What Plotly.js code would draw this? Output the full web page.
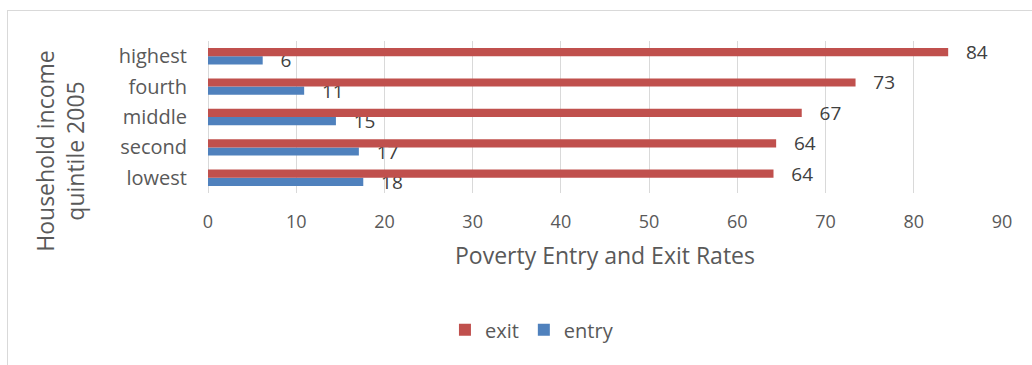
<!DOCTYPE html>
<html><head><meta charset="utf-8">
<script src="https://cdn.plot.ly/plotly-3.0.1.min.js"></script>
<style>
html,body{margin:0;padding:0;background:#fff;}
#wrap{position:absolute;left:0;top:0;width:1032px;height:365px;}
#frame{position:absolute;left:7px;top:10px;width:1040px;height:370px;border:1px solid #d9d9d9;box-sizing:border-box;}
#chart{position:absolute;left:0;top:0;width:1032px;height:365px;}
</style></head>
<body><div id="wrap"><div id="frame"></div><div id="chart"></div></div>
<script>
var categories = ["lowest", "second", "middle", "fourth", "highest"];
var exitRates = [64.1, 64.4, 67.3, 73.4, 83.9];
var entryRates = [17.6, 17.1, 14.5, 10.9, 6.2];
var xTicks = [0, 10, 20, 30, 40, 50, 60, 70, 80, 90];

var font = "Open Sans, Liberation Sans, sans-serif";
var pad = "\u00a0\u00a0\u00a0";
var traces = [
  {type:"bar", orientation:"h", name:"entry", y:categories, x:entryRates,
   marker:{color:"#4F81BD"}, texttemplate:pad + "%{x:.0f}", textposition:"outside", constraintext:"none",
   textfont:{family:font, size:19, color:"#404040"}, cliponaxis:false, hoverinfo:"none"},
  {type:"bar", orientation:"h", name:"exit", y:categories, x:exitRates,
   marker:{color:"#C0504D"}, texttemplate:pad + "%{x:.0f}", textposition:"outside", constraintext:"none",
   textfont:{family:font, size:19, color:"#404040"}, cliponaxis:false, hoverinfo:"none"}
];
var layout = {
  width:1032, height:365,
  paper_bgcolor:"rgba(0,0,0,0)", plot_bgcolor:"rgba(0,0,0,0)",
  margin:{l:208, r:30, t:41, b:172},
  barmode:"group", bargap:0.46, bargroupgap:0,
  showlegend:true,
  legend:{orientation:"h", x:0.408, xanchor:"center", y:-0.90, yanchor:"middle",
    traceorder:"reversed", font:{family:font, size:20, color:"#595959"}},
  xaxis:{range:[0,90], tickvals:xTicks, showgrid:true, gridcolor:"#d9d9d9", gridwidth:1,
    zeroline:true, zerolinecolor:"#d9d9d9", showline:false, ticks:"", ticklabelstandoff:16,
    tickfont:{family:font, size:18, color:"#595959"},
    title:{text:"Poverty Entry and Exit Rates", font:{family:font, size:23, color:"#595959"}, standoff:15}},
  yaxis:{type:"category", categoryorder:"array", categoryarray:categories,
    showgrid:false, zeroline:false, showline:false, ticks:"", ticklabelstandoff:20,
    tickfont:{family:font, size:20, color:"#595959"}},
  annotations:[{xref:"paper", yref:"paper", x:-0.186, y:0.28, xanchor:"center", yanchor:"middle",
    text:"Household income<br>quintile 2005", textangle:-90, showarrow:false,
    font:{family:font, size:23, color:"#595959"}}]
};
Plotly.newPlot("chart", traces, layout, {displayModeBar:false, staticPlot:true});
</script></body></html>
